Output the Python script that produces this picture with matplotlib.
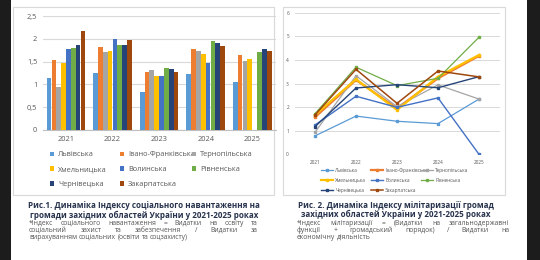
import matplotlib
matplotlib.use("Agg")
import matplotlib.pyplot as plt
import numpy as np
from matplotlib.patches import Rectangle

plt.rcParams['font.family'] = ['Open Sans', 'DejaVu Sans']

years = ['2021', '2022', '2023', '2024', '2025']
regions = ['Львівська', 'Івано-Франківська', 'Тернопільська', 'Хмельницька',
           'Волинська', 'Рівненська', 'Чернівецька', 'Закарпатська']
colors = ['#5B9BD5', '#ED7D31', '#A5A5A5', '#FFC000',
          '#4472C4', '#70AD47', '#264478', '#9E480E']

# Social load index (Fig. 1)
social_lviv = [1.13, 1.26, 0.83, 1.23, 1.05]
social_if = [1.54, 1.81, 1.27, 1.78, 1.64]
social_tern = [0.95, 1.70, 1.32, 1.73, 1.51]
social_khm = [1.46, 1.74, 1.19, 1.67, 1.56]
social_vol = [1.78, 1.99, 1.18, 1.47, 0.0]
social_riv = [1.80, 1.86, 1.37, 1.96, 1.71]
social_cher = [1.87, 1.86, 1.34, 1.90, 1.78]
social_zak = [2.18, 1.97, 1.27, 1.85, 1.73]

# Militarization index (Fig. 2)
mil_lviv = [0.78, 1.62, 1.40, 1.30, 2.34]
mil_if = [1.57, 3.15, 1.95, 3.22, 4.17]
mil_tern = [0.93, 3.33, 2.02, 2.94, 2.34]
mil_khm = [1.67, 3.18, 1.88, 3.29, 4.21]
mil_vol = [1.24, 2.46, 1.99, 2.39, 0.0]
mil_riv = [1.72, 3.69, 2.91, 3.22, 4.96]
mil_cher = [1.17, 2.81, 2.95, 2.82, 3.29]
mil_zak = [1.67, 3.60, 2.16, 3.53, 3.28]

social = [social_lviv, social_if, social_tern, social_khm,
          social_vol, social_riv, social_cher, social_zak]
mil = [mil_lviv, mil_if, mil_tern, mil_khm, mil_vol, mil_riv, mil_cher, mil_zak]

W, H = 540, 260
fig = plt.figure(figsize=(W / 100, H / 100), dpi=100)
fig.patch.set_facecolor('white')

def fx(x):
    return x / W

def fy(y):
    return 1 - y / H

def box(x0, y0, x1, y1, **kw):
    fig.patches.append(Rectangle((fx(x0), fy(y1)), fx(x1) - fx(x0), fy(y0) - fy(y1),
                                 transform=fig.transFigure, zorder=-10, **kw))

# dark screen borders
box(0, 0, 11, 260, facecolor='#1c1c1c', edgecolor='none')
box(527, 0, 540, 260, facecolor='#1c1c1c', edgecolor='none')
# chart frames
box(13, 7, 274, 195, facecolor='white', edgecolor='#d9d9d9', lw=0.8)
box(283, 7, 505, 195, facecolor='white', edgecolor='#d9d9d9', lw=0.8)

tick_col = '#595959'
grid_col = '#d9d9d9'

# ---------- Chart 1: bars ----------
ax1 = fig.add_axes([fx(42.7), fy(130), fx(275.5) - fx(42.7), fy(16) - fy(130)])
x = np.arange(len(years))
bw = 0.104
bars = []
for i, (vals, c, name) in enumerate(zip(social, colors, regions)):
    b = ax1.bar(x + (i - 3.5) * bw, vals, width=bw * 0.97, color=c, label=name, zorder=3)
    bars.append(b)
ax1.set_ylim(0, 2.5)
ax1.set_xlim(-0.5, 4.5)
ax1.set_yticks([0, 0.5, 1, 1.5, 2, 2.5])
ax1.set_yticklabels(['0', '0,5', '1', '1,5', '2', '2,5'])
ax1.set_xticks(x)
ax1.set_xticklabels(years)
ax1.yaxis.grid(True, color=grid_col, lw=0.8, zorder=0)
for s in ['top', 'right', 'left']:
    ax1.spines[s].set_visible(False)
ax1.spines['bottom'].set_color('#bfbfbf')
ax1.spines['bottom'].set_linewidth(0.8)
ax1.tick_params(axis='both', length=0, labelsize=5.3, colors=tick_col, pad=4)
ax1.set_facecolor('none')

# legend chart 1 (three columns)
cols1 = [[0, 3, 6], [1, 4, 7], [2, 5]]
colx1 = [50, 120, 192]
for cx, idx in zip(colx1, cols1):
    lg = fig.legend([bars[i] for i in idx], [regions[i] for i in idx],
                    loc='upper left', bbox_to_anchor=(fx(cx), fy(151.5)),
                    frameon=False, fontsize=5.3, handlelength=0.6, handleheight=0.6,
                    handletextpad=0.5, labelspacing=1.05, borderaxespad=0, borderpad=0,
                    labelcolor=tick_col)

# ---------- Chart 2: lines ----------
ax2 = fig.add_axes([fx(294.5), fy(154.3), fx(499.5) - fx(294.5), fy(12.7) - fy(154.3)])
lws = [0.9, 1.6, 0.9, 1.6, 1.0, 0.9, 1.0, 1.1]
lines = []
for vals, c, name, lw in zip(mil, colors, regions, lws):
    l, = ax2.plot(x, vals, color=c, lw=lw, marker='s', markersize=1.8,
                  label=name, zorder=3)
    lines.append(l)
ax2.set_ylim(0, 6)
ax2.set_xlim(-0.5, 4.5)
ax2.set_yticks(range(7))
ax2.set_xticks(x)
ax2.set_xticklabels(years)
ax2.yaxis.grid(True, color=grid_col, lw=0.7, zorder=0)
for s in ['top', 'right', 'left', 'bottom']:
    ax2.spines[s].set_visible(False)
ax2.tick_params(axis='both', length=0, labelsize=3.4, colors=tick_col, pad=4)
ax2.set_facecolor('none')

colx2 = [321, 371, 421]
for cx, idx in zip(colx2, cols1):
    fig.legend([lines[i] for i in idx], [regions[i] for i in idx],
               loc='upper left', bbox_to_anchor=(fx(cx), fy(168)),
               frameon=False, fontsize=3.4, handlelength=2.6,
               handletextpad=0.4, labelspacing=1.05, borderaxespad=0, borderpad=0,
               labelcolor=tick_col)

# ---------- Captions ----------
cap_col = '#27334d'
fig.text(fx(144), fy(205), 'Рис.1. Динаміка Індексу соціального навантаження на',
         ha='center', va='center', fontsize=5.8, fontweight='bold', color=cap_col)
fig.text(fx(144), fy(215), 'громади західних областей України у 2021-2025 роках',
         ha='center', va='center', fontsize=5.8, fontweight='bold', color=cap_col)
fig.text(fx(396), fy(205), 'Рис. 2. Динаміка Індексу мілітаризації громад',
         ha='center', va='center', fontsize=5.8, fontweight='bold', color=cap_col)
fig.text(fx(396), fy(214.5), 'західних областей України у 2021-2025 роках',
         ha='center', va='center', fontsize=5.8, fontweight='bold', color=cap_col)

note_col = '#555555'
renderer = fig.canvas.get_renderer()

def line_text(s, x0, x1, y, justify, size=4.9):
    words = s.split(' ')
    objs = [fig.text(0, fy(y), w, ha='left', va='center', fontsize=size, color=note_col)
            for w in words]
    widths = [o.get_window_extent(renderer).width for o in objs]
    t1 = fig.text(0, 0, 'a a', fontsize=size)
    t2 = fig.text(0, 0, 'aa', fontsize=size)
    space = t1.get_window_extent(renderer).width - t2.get_window_extent(renderer).width
    t1.remove()
    t2.remove()
    if justify and len(words) > 1:
        gap = (x1 - x0 - sum(widths)) / (len(words) - 1)
    else:
        gap = space
    pos = x0
    for o, w in zip(objs, widths):
        o.set_x(fx(pos))
        pos += w + gap

note1 = ['*Індекс соціального навантаження = Видатки на освіту та',
         'соціальний захист та забезпечення / Видатки за',
         'вирахуванням соціальних (освіти та соцзахисту)']
note2 = ['*Індекс мілітаризації = (Видатки на загальнодержавні',
         'функції + громадський порядок) / Видатки на',
         'економічну діяльність']
ys = [223.3, 230.3, 237.3]
for i, s in enumerate(note1):
    line_text(s, 29, 258, ys[i], i < 2)
for i, s in enumerate(note2):
    line_text(s, 297, 509, ys[i], i < 2)

fig.savefig('out.png', dpi=100, facecolor=fig.get_facecolor())
